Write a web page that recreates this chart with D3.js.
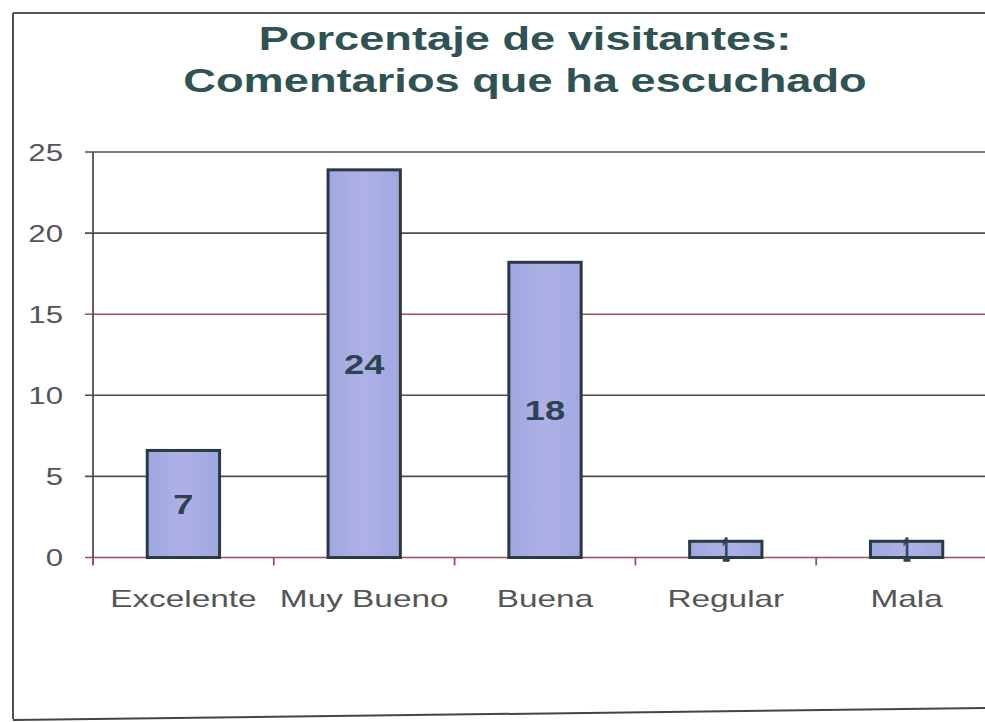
<!DOCTYPE html>
<html>
<head>
<meta charset="utf-8">
<script src="https://cdn.jsdelivr.net/npm/d3@7"></script>
<style>
  html, body { margin: 0; padding: 0; background: #fff; }
  svg { display: block; }
</style>
</head>
<body>
<svg id="chart" width="985" height="722"></svg>
<script>
const categories = ["Excelente", "Muy Bueno", "Buena", "Regular", "Mala"];
const values = [6.6, 23.9, 18.2, 1.0, 1.0];
const yTicks = [0, 5, 10, 15, 20, 25];
const titleLines = ["Porcentaje de visitantes:", "Comentarios que ha escuchado"];

const svg = d3.select("#chart");
const W = 985, H = 722;
const FONT = "Liberation Sans, Arial, sans-serif";

const x = d3.scaleBand().domain(categories).range([93, 997]).paddingInner(0.6).paddingOuter(0.3);
const y = d3.scaleLinear().domain([0, 25]).range([557.5, 152]);

// outer frame
svg.append("line").attr("x1", 13).attr("x2", W).attr("y1", 13).attr("y2", 13)
  .attr("stroke", "#555").attr("stroke-width", 2);
svg.append("line").attr("x1", 13).attr("x2", 13).attr("y1", 13).attr("y2", 719)
  .attr("stroke", "#5a4a55").attr("stroke-width", 2);
svg.append("line").attr("x1", 13).attr("x2", W).attr("y1", 720).attr("y2", 708)
  .attr("stroke", "#444").attr("stroke-width", 2);

// title
const title = svg.append("g");
titleLines.forEach((t, i) => {
  title.append("text")
    .attr("transform", `translate(525,${50 + i * 42}) scale(1.33,1)`)
    .attr("text-anchor", "middle")
    .attr("font-family", FONT)
    .attr("font-weight", "bold")
    .attr("font-size", 34)
    .attr("fill", "#2f5352")
    .text(t);
});

// gridlines (with outward tick stubs)
const grid = svg.append("g");
yTicks.forEach(v => {
  const red = (v === 15 || v === 0);
  grid.append("line")
    .attr("x1", 85).attr("x2", W)
    .attr("y1", y(v)).attr("y2", y(v))
    .attr("stroke", red ? "#9c4d5e" : "#4d4d4d")
    .attr("stroke-width", 1.6);
});

// y axis labels
const yAxis = d3.axisLeft(y).tickValues(yTicks).tickSize(0).tickPadding(0);
const yG = svg.append("g").attr("transform", "translate(63,0)").call(yAxis);
yG.select(".domain").remove();
yG.selectAll("text")
  .attr("x", 0).attr("dy", "0.35em")
  .attr("font-family", FONT)
  .attr("font-size", 24)
  .attr("fill", "#555")
  .each(function(d) {
    d3.select(this).attr("transform", `translate(0,${y(d)}) scale(1.3,1) translate(0,${-y(d)})`);
  });

// vertical axis line
svg.append("line").attr("x1", 93).attr("x2", 93).attr("y1", 152).attr("y2", 565)
  .attr("stroke", "#5a4a52").attr("stroke-width", 1.8);

// x axis ticks at category boundaries
const bounds = categories.map(c => x(c) - (x.step() - x.bandwidth()) / 2);
bounds.forEach(b => {
  svg.append("line").attr("x1", b).attr("x2", b).attr("y1", y(0)).attr("y2", y(0) + 8)
    .attr("stroke", "#9c4d5e").attr("stroke-width", 1.8);
});

// bar gradient
const defs = svg.append("defs");
const grad = defs.append("linearGradient").attr("id", "barGrad").attr("x1", "0").attr("x2", "1").attr("y1", "0").attr("y2", "0");
grad.append("stop").attr("offset", "0%").attr("stop-color", "#9ea8e0");
grad.append("stop").attr("offset", "50%").attr("stop-color", "#afb1e6");
grad.append("stop").attr("offset", "100%").attr("stop-color", "#9ea8e0");

const rows = categories.map((c, i) => ({ c, v: values[i] }));

// bars
svg.append("g").selectAll("rect")
  .data(rows)
  .join("rect")
  .attr("x", d => x(d.c))
  .attr("y", d => y(d.v))
  .attr("width", x.bandwidth())
  .attr("height", d => y(0) - y(d.v))
  .attr("fill", "url(#barGrad)")
  .attr("stroke", "#2c3945")
  .attr("stroke-width", 3);

// value labels
const fmt = d3.format(".0f");
svg.append("g").selectAll("text")
  .data(rows)
  .join("text")
  .attr("transform", d => {
    const cx = x(d.c) + x.bandwidth() / 2;
    const cy = (y(d.v) + y(0)) / 2;
    const sx = d.v < 3 ? 0.4 : 1.3;
    return `translate(${cx},${cy}) scale(${sx},1)`;
  })
  .attr("text-anchor", "middle")
  .attr("dy", "0.36em")
  .attr("font-family", FONT)
  .attr("font-weight", "bold")
  .attr("font-size", d => d.v < 3 ? 33 : 28)
  .attr("fill", "#2d4352")
  .attr("stroke", d => d.v < 3 ? "#2d4352" : "none")
  .attr("stroke-width", 1.5)
  .text(d => fmt(d.v));

// category labels
svg.append("g").selectAll("text")
  .data(categories)
  .join("text")
  .attr("transform", c => `translate(${x(c) + x.bandwidth() / 2},607) scale(1.39,1)`)
  .attr("text-anchor", "middle")
  .attr("font-family", FONT)
  .attr("font-size", 24)
  .attr("fill", "#555")
  .text(c => c);
</script>
</body>
</html>
